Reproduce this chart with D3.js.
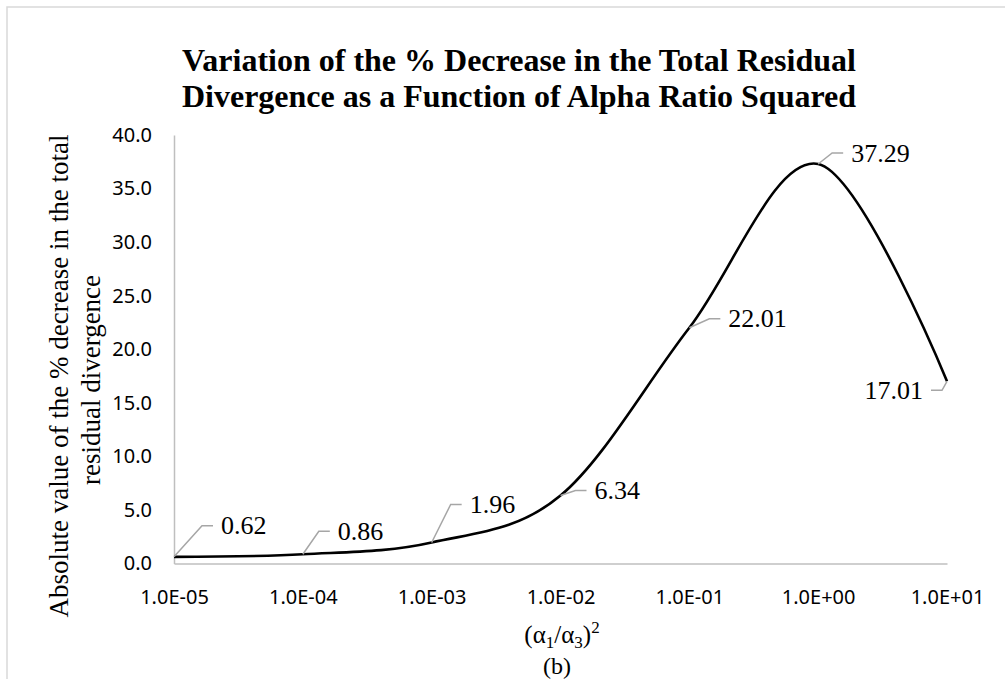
<!DOCTYPE html>
<html>
<head>
<meta charset="utf-8">
<script src="https://d3js.org/d3.v7.min.js"></script>
<style>
  body { margin: 0; background: #fff; }
  svg { display: block; }
</style>
</head>
<body>
<script>
// values
var ratios = [1e-5, 1e-4, 1e-3, 1e-2, 1e-1, 1, 10];
var decrease = [0.62, 0.86, 1.96, 6.34, 22.01, 37.29, 17.01];
var xTickLabels = ["1.0E-05", "1.0E-04", "1.0E-03", "1.0E-02", "1.0E-01", "1.0E+00", "1.0E+01"];
var yTicks = [0, 5, 10, 15, 20, 25, 30, 35, 40];

// where each data label's leader bends (pixels from the point), and which side the text goes
var labelElbow = [[28, -31], [16, -23], [19, -38], [15, -5], [20, -9], [14, -11], [-5, 9]];
var labelSide = [1, 1, 1, 1, 1, 1, -1];

var W = 1005, H = 679;
var plotL = 174, plotR = 947, plotT = 135, plotB = 563.5;

var svg = d3.select("body").append("svg")
    .attr("width", W)
    .attr("height", H);

// chart frame (only top and left edges fall inside the picture)
svg.append("rect")
    .attr("x", 7).attr("y", 7)
    .attr("width", 1200).attr("height", 900)
    .attr("fill", "none")
    .attr("stroke", "#d9d9d9")
    .attr("stroke-width", 1.5);

var x = d3.scaleLog().domain([1e-5, 10]).range([plotL, plotR]);
var y = d3.scaleLinear().domain([0, 40]).range([plotB, plotT]);

var serif = "'Liberation Serif', 'Times New Roman', serif";
var sans = "'Noto Sans', 'Open Sans', sans-serif";

// title
var title = svg.append("text")
    .attr("text-anchor", "middle")
    .attr("font-family", serif)
    .attr("font-weight", "bold")
    .attr("font-size", 32)
    .attr("fill", "#000");
title.append("tspan").attr("x", 519).attr("y", 71)
    .text("Variation of the % Decrease in the Total Residual");
title.append("tspan").attr("x", 519).attr("y", 107)
    .text("Divergence as a Function of Alpha Ratio Squared");

// axes
var xAxis = d3.axisBottom(x)
    .tickValues(ratios)
    .tickSize(0)
    .tickPadding(26)
    .tickFormat(function (d, i) { return xTickLabels[i]; });
var gx = svg.append("g")
    .attr("transform", "translate(0," + plotB + ")")
    .call(xAxis);

var yAxis = d3.axisLeft(y)
    .tickValues(yTicks)
    .tickSize(0)
    .tickPadding(22)
    .tickFormat(d3.format(".1f"));
var gy = svg.append("g")
    .attr("transform", "translate(" + plotL + ",0)")
    .call(yAxis);

[gx, gy].forEach(function (g) {
  g.select(".domain").attr("stroke", "#bfbfbf").attr("stroke-width", 1.5);
  g.selectAll("text")
      .attr("font-family", sans)
      .attr("font-size", 20)
      .attr("fill", "#000");
});
gx.selectAll("text").attr("dy", "0.32em").attr("y", 34);

// axis titles
var yt = svg.append("text")
    .attr("transform", "rotate(-90)")
    .attr("text-anchor", "middle")
    .attr("font-family", serif)
    .attr("font-size", 27)
    .attr("fill", "#000");
yt.append("tspan").attr("x", -376).attr("y", 68)
    .text("Absolute value of the % decrease in the total");
yt.append("tspan").attr("x", -380).attr("y", 100)
    .text("residual divergence");

var xt = svg.append("text")
    .attr("x", 562).attr("y", 643)
    .attr("text-anchor", "middle")
    .attr("font-family", serif)
    .attr("font-size", 25)
    .attr("fill", "#000");
xt.append("tspan").text("(\u03b1");
xt.append("tspan").attr("font-size", 17).attr("dy", 5).text("1");
xt.append("tspan").attr("dy", -5).text("/\u03b1");
xt.append("tspan").attr("font-size", 17).attr("dy", 5).text("3");
xt.append("tspan").attr("dy", -5).text(")");
xt.append("tspan").attr("font-size", 17).attr("dy", -10).text("2");

svg.append("text")
    .attr("x", 557).attr("y", 674)
    .attr("text-anchor", "middle")
    .attr("font-family", serif)
    .attr("font-size", 24)
    .attr("fill", "#000")
    .text("(b)");

// smoothed line
var pts = ratios.map(function (r, i) { return [x(r), y(decrease[i])]; });
var line = d3.line().curve(d3.curveCardinal.tension(0));
svg.append("path")
    .attr("d", line(pts))
    .attr("fill", "none")
    .attr("stroke", "#000")
    .attr("stroke-width", 2.6);

// data labels with leader lines
var lbl = svg.append("g").selectAll("g")
    .data(decrease)
    .enter().append("g");

lbl.append("polyline")
    .attr("points", function (d, i) {
      var px = x(ratios[i]), py = y(d);
      var ex = px + labelElbow[i][0], ey = py + labelElbow[i][1];
      return [[px, py], [ex, ey], [ex + 11 * labelSide[i], ey]].join(" ");
    })
    .attr("fill", "none")
    .attr("stroke", "#a6a6a6")
    .attr("stroke-width", 1.5);

lbl.append("text")
    .attr("x", function (d, i) { return x(ratios[i]) + labelElbow[i][0] + 19 * labelSide[i]; })
    .attr("y", function (d, i) { return y(d) + labelElbow[i][1]; })
    .attr("dy", "0.33em")
    .attr("text-anchor", function (d, i) { return labelSide[i] > 0 ? "start" : "end"; })
    .attr("font-family", serif)
    .attr("font-size", 26)
    .attr("fill", "#000")
    .text(function (d) { return d.toFixed(2); });
</script>
</body>
</html>
